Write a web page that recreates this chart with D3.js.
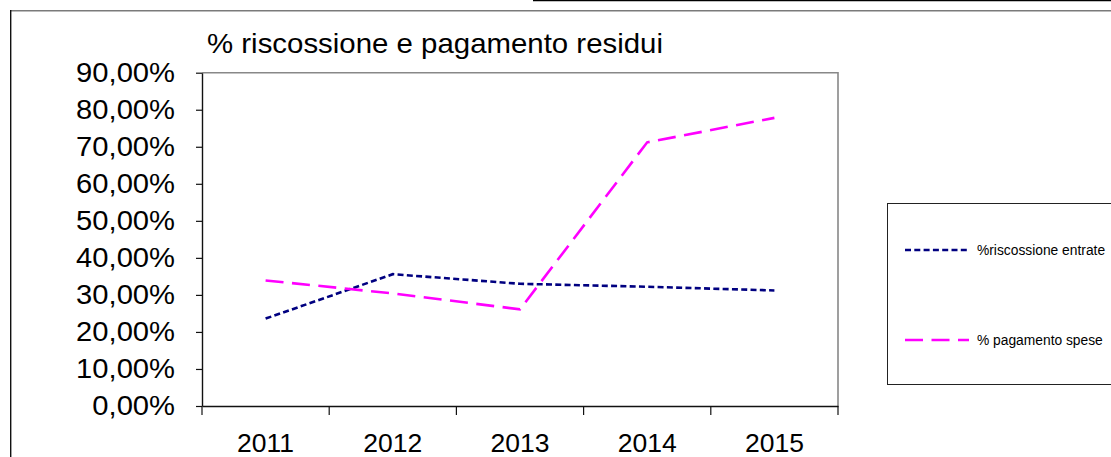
<!DOCTYPE html>
<html>
<head>
<meta charset="utf-8">
<script src="https://cdn.jsdelivr.net/npm/d3@7"></script>
<style>
  html, body { margin: 0; padding: 0; background: #fff; }
  svg { display: block; font-family: "Liberation Sans", Arial, sans-serif; }
</style>
</head>
<body>
<svg id="chart" width="1111" height="457"></svg>
<script>
// ---- data ----
const years = ["2011", "2012", "2013", "2014", "2015"];
const riscossioneEntrate = [0.236, 0.356, 0.330, 0.322, 0.312];
const pagamentoSpese = [0.339, 0.304, 0.261, 0.712, 0.778];
const yTicks = [0, 0.1, 0.2, 0.3, 0.4, 0.5, 0.6, 0.7, 0.8, 0.9];
const seriesNames = ["%riscossione entrate", "% pagamento spese"];
const titleText = "% riscossione e pagamento residui";

const svg = d3.select("#chart");
const W = 1111, H = 457;

// outer frame
svg.append("line").attr("x1", 533).attr("x2", W).attr("y1", 0.5).attr("y2", 0.5)
  .attr("stroke", "#000").attr("stroke-width", 1.5);
svg.append("line").attr("x1", 10).attr("x2", W).attr("y1", 10.7).attr("y2", 10.7)
  .attr("stroke", "#7a7a7a").attr("stroke-width", 1.6);
svg.append("line").attr("x1", 10.7).attr("x2", 10.7).attr("y1", 10).attr("y2", H)
  .attr("stroke", "#111").attr("stroke-width", 1.4);

const plot = { left: 202, right: 838, top: 72.7, bottom: 406 };

const x = d3.scaleBand().domain(years).range([plot.left, plot.right]).padding(0);
const y = d3.scaleLinear().domain([0, 0.9]).range([plot.bottom, plot.top]);

const locale = d3.formatLocale({ decimal: ",", thousands: ".", grouping: [3], currency: ["€", ""] });
const pct = locale.format(".2%");

// plot frame (top & right, gray)
svg.append("path")
  .attr("d", `M${plot.left},${plot.top}H${plot.right}V${plot.bottom}`)
  .attr("fill", "none").attr("stroke", "#888").attr("stroke-width", 1.6);

function stretch(sel, factor) {
  sel.each(function () {
    const w = this.getComputedTextLength();
    d3.select(this).attr("textLength", w * factor).attr("lengthAdjust", "spacingAndGlyphs");
  });
}

// y axis
const yAxis = svg.append("g")
  .attr("transform", `translate(${plot.left},0)`)
  .call(d3.axisLeft(y).tickValues(yTicks).tickFormat(pct).tickSize(6).tickSizeOuter(0).tickPadding(21));
yAxis.select(".domain").attr("stroke", "#111").attr("stroke-width", 1.4);
yAxis.selectAll(".tick line").attr("stroke", "#111").attr("stroke-width", 1.2);
yAxis.selectAll(".tick text").attr("font-size", 27).attr("fill", "#000")
  .attr("font-family", "Liberation Sans, Arial, sans-serif");
stretch(yAxis.selectAll(".tick text"), 1.08);

// x axis (labels at band centres)
const xAxis = svg.append("g")
  .attr("transform", `translate(0,${plot.bottom})`)
  .call(d3.axisBottom(x).tickSize(0).tickPadding(27.5));
xAxis.select(".domain").attr("stroke", "#111").attr("stroke-width", 1.4);
xAxis.selectAll(".tick text").attr("font-size", 26.5).attr("fill", "#000")
  .attr("font-family", "Liberation Sans, Arial, sans-serif");
// x ticks at band boundaries
const bounds = years.map(d => x(d)).concat([x.range()[1]]);
svg.append("g").selectAll("line").data(bounds).join("line")
  .attr("x1", d => d).attr("x2", d => d)
  .attr("y1", plot.bottom).attr("y2", plot.bottom + 9)
  .attr("stroke", "#111").attr("stroke-width", 1.2);

// lines
const line = d3.line().x((d, i) => x(years[i]) + x.bandwidth() / 2).y(d => y(d));
svg.append("path").datum(riscossioneEntrate).attr("d", line)
  .attr("fill", "none").attr("stroke", "#000080").attr("stroke-width", 2.6)
  .attr("stroke-dasharray", "6,3.3");
svg.append("path").datum(pagamentoSpese).attr("d", line)
  .attr("fill", "none").attr("stroke", "#ff00ff").attr("stroke-width", 2.6)
  .attr("stroke-dasharray", "18,8.5");

// title
const title = svg.append("text").attr("x", 207).attr("y", 53).attr("font-size", 28.5)
  .attr("fill", "#000").text(titleText);
title.attr("textLength", 456).attr("lengthAdjust", "spacingAndGlyphs");

// legend
svg.append("rect").attr("x", 887.5).attr("y", 203.5).attr("width", 240).attr("height", 181)
  .attr("fill", "#fff").attr("stroke", "#222").attr("stroke-width", 1);
const legendItems = [
  { name: seriesNames[0], color: "#000080", dash: "6,3.3", y: 250 },
  { name: seriesNames[1], color: "#ff00ff", dash: "18,8.5", y: 340 }
];
const lg = svg.append("g").selectAll("g").data(legendItems).join("g");
lg.append("line").attr("x1", 905).attr("x2", 969).attr("y1", d => d.y).attr("y2", d => d.y)
  .attr("stroke", d => d.color).attr("stroke-width", 2.6).attr("stroke-dasharray", d => d.dash);
lg.append("text").attr("x", 977).attr("y", d => d.y + 4.8).attr("font-size", 13.8)
  .attr("fill", "#000").text(d => d.name);
</script>
</body>
</html>
